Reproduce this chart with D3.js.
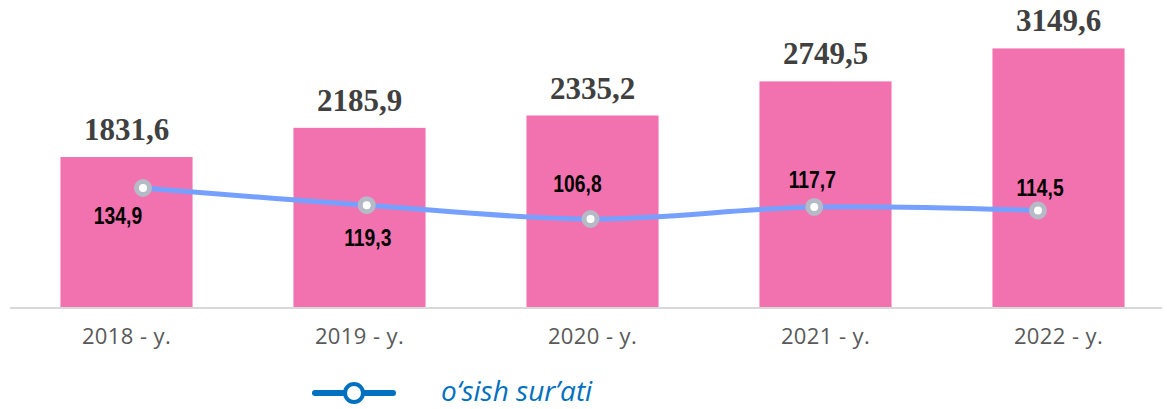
<!DOCTYPE html>
<html><head><meta charset="utf-8">
<script src="https://cdn.jsdelivr.net/npm/d3@7"></script>
<style>body{margin:0;background:#fff}svg{display:block}</style>
</head><body>
<svg id="c" width="1167" height="409"></svg>
<script>
const categories = ["2018 - y.", "2019 - y.", "2020 - y.", "2021 - y.", "2022 - y."];
const volumeValues = [1831.6, 2185.9, 2335.2, 2749.5, 3149.6];
const growthValues = [134.9, 119.3, 106.8, 117.7, 114.5];
const volumeLabels = ["1831,6", "2185,9", "2335,2", "2749,5", "3149,6"];
const growthLabels = ["134,9", "119,3", "106,8", "117,7", "114,5"];
const legendLabel = "o‘sish sur’ati";

const svg = d3.select("#c");
const baseY = 308;
const x = d3.scaleBand().domain(categories).range([10, 1175]).paddingInner(0.433).paddingOuter(0.2165);
const xLine = d3.scalePoint().domain(categories).range([143, 1038]);
const y = d3.scaleLinear().domain([0, 3600]).range([baseY, 11.3]);
const y2 = d3.scaleLinear().domain([106.8, 134.9]).range([219, 188]);

// bars
svg.append("g").selectAll("rect").data(volumeValues).join("rect")
  .attr("x", (d, i) => x(categories[i]))
  .attr("y", d => y(d))
  .attr("width", x.bandwidth())
  .attr("height", d => baseY - y(d))
  .attr("fill", "#F272B0");

// axis
const ax = svg.append("g").attr("transform", `translate(0,${baseY})`)
  .call(d3.axisBottom(x).tickSize(0).tickPadding(20));
ax.select(".domain").attr("stroke", "#D9D9D9").attr("stroke-width", 2)
  .attr("d", "M10,0H1162");
ax.selectAll("text").attr("font-family", "'Open Sans', sans-serif")
  .attr("font-size", 22).attr("fill", "#595959").attr("letter-spacing", 0.4);

// bar labels
svg.append("g").selectAll("text").data(volumeValues).join("text")
  .attr("x", (d, i) => x(categories[i]) + x.bandwidth() / 2)
  .attr("y", d => y(d) - 17)
  .attr("text-anchor", "middle")
  .attr("font-family", "'Liberation Serif', serif")
  .attr("font-weight", "bold").attr("font-size", 31).attr("fill", "#404040")
  .text((d, i) => volumeLabels[i]);

// line
const line = d3.line().x((d, i) => xLine(categories[i])).y(d => y2(d)).curve(d3.curveCatmullRom.alpha(0.5));
svg.append("path").datum(growthValues).attr("d", line)
  .attr("fill", "none").attr("stroke", "#76A0FF").attr("stroke-width", 5);
svg.append("g").selectAll("circle").data(growthValues).join("circle")
  .attr("cx", (d, i) => xLine(categories[i])).attr("cy", d => y2(d)).attr("r", 6.5)
  .attr("fill", "#fff").attr("stroke", "#B4BAC6").attr("stroke-width", 5);

// line labels (condensed bold sans)
const lblOff = [[-25, 36], [1, 41], [-13, -27], [-2, -19], [2, -15]];
svg.append("g").selectAll("text").data(growthValues).join("text")
  .attr("transform", (d, i) => `translate(${xLine(categories[i]) + lblOff[i][0]},${y2(d) + lblOff[i][1]}) scale(0.84,1)`)
  .attr("text-anchor", "middle")
  .attr("font-family", "'Liberation Sans', Arial, sans-serif")
  .attr("font-weight", "bold").attr("font-size", 23).attr("fill", "#000")
  .text((d, i) => growthLabels[i]);

// legend
const lg = svg.append("g");
lg.append("line").attr("x1", 315).attr("x2", 393).attr("y1", 393).attr("y2", 393)
  .attr("stroke", "#0070C0").attr("stroke-width", 6).attr("stroke-linecap", "round");
lg.append("circle").attr("cx", 354).attr("cy", 393).attr("r", 9)
  .attr("fill", "#fff").attr("stroke", "#0070C0").attr("stroke-width", 4);
lg.append("text").attr("x", 441).attr("y", 401)
  .attr("font-family", "'Open Sans', sans-serif").attr("font-style", "italic")
  .attr("font-size", 28).attr("fill", "#0070C0").text(legendLabel);
</script>
</body></html>
